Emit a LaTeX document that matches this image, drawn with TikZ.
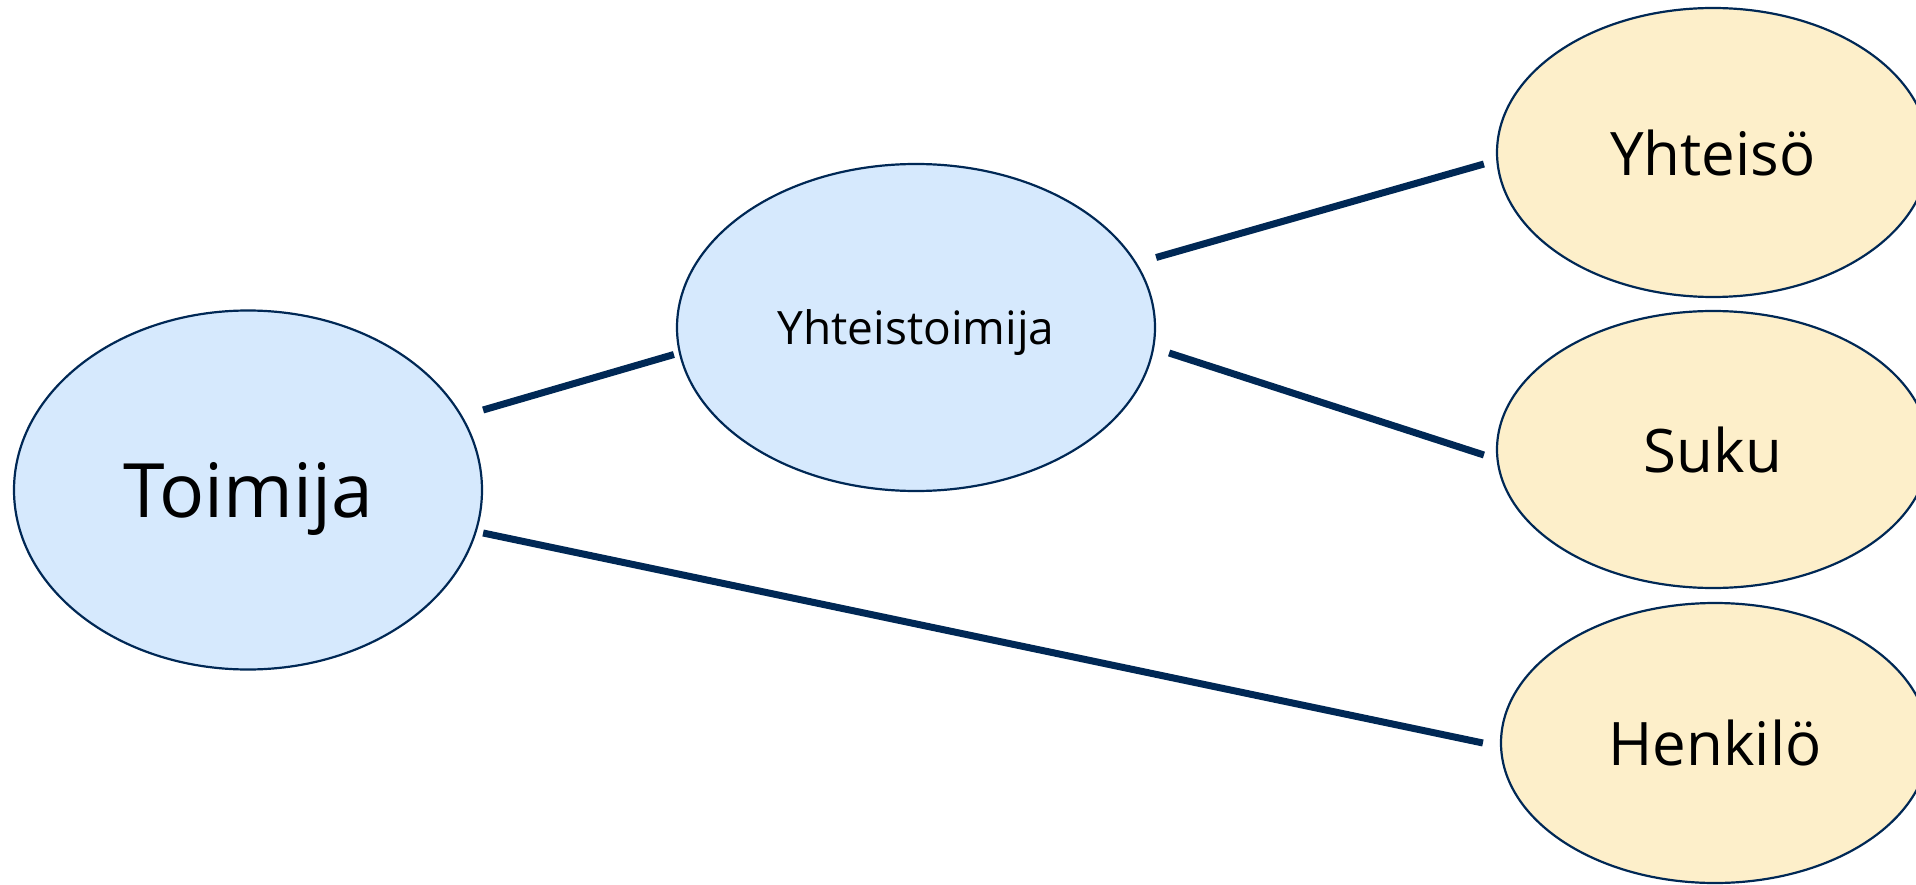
\documentclass[tikz,border=0pt]{standalone}
\usepackage{fontspec}
\setmainfont{Open Sans}
\usetikzlibrary{shapes.geometric}
\definecolor{ovalblue}{RGB}{214,233,253}
\definecolor{ovalyellow}{RGB}{253,239,202}
\definecolor{linknavy}{RGB}{0,40,85}

\begin{document}
\begin{tikzpicture}[x=1pt,y=1pt,
    oval/.style={ellipse,draw=linknavy,line width=2.2pt,inner sep=0pt,text depth=0pt},
    blueoval/.style={oval,fill=ovalblue},
    yellowoval/.style={oval,fill=ovalyellow,font=\fontsize{60}{66}\selectfont},
    link/.style={draw=linknavy,line width=7pt}]
      \useasboundingbox (0,0) rectangle (1916,-885);
      \node[blueoval,minimum width=468,minimum height=359,font=\fontsize{75}{80}\selectfont] (toimija) at (248,-490) {Toimija};
      \node[blueoval,minimum width=478,minimum height=327,font=\fontsize{46}{50}\selectfont] (yhteistoimija) at (916,-327.5) {Yhteistoimija};
      \node[yellowoval,minimum width=432,minimum height=289] (yhteiso) at (1713,-152.5) {Yhteisö};
      \node[yellowoval,minimum width=432,minimum height=277] (suku) at (1713,-449.5) {Suku};
      \node[yellowoval,minimum width=428,minimum height=280] (henkilo) at (1715,-743) {Henkilö};
      \draw[link] ([yshift=80]toimija.east) -- ([xshift=-2,yshift=-27]yhteistoimija.west);
      \draw[link] ([yshift=-43]toimija.east) -- ([xshift=-17]henkilo.west);
      \draw[link] ([yshift=70]yhteistoimija.east) -- ([xshift=-12,yshift=-11.5]yhteiso.west);
      \draw[link] ([xshift=13,yshift=-25.5]yhteistoimija.east) -- ([xshift=-12,yshift=-5.5]suku.west);
\end{tikzpicture}
\end{document}
